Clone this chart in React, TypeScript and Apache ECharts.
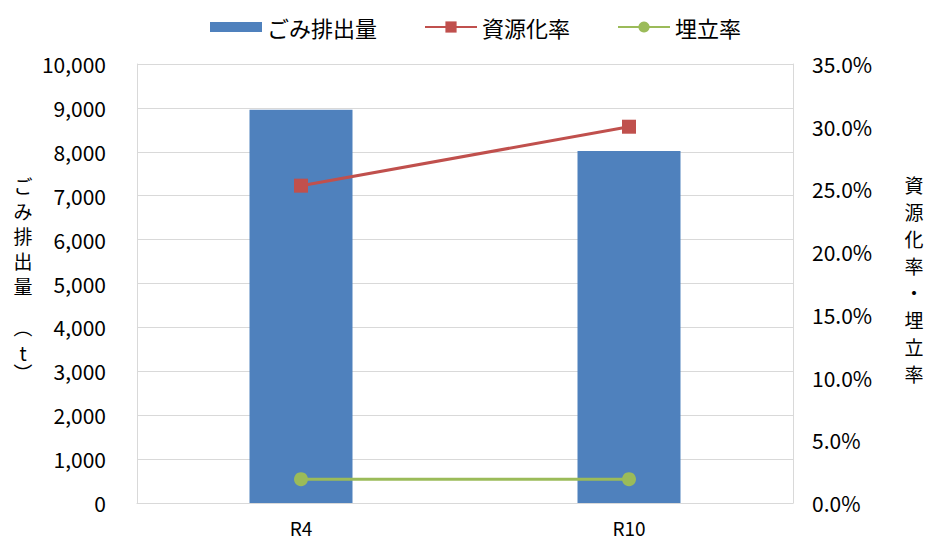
import React, { useEffect, useRef } from "react";
import * as echarts from "echarts";

const categories = ["R4", "R10"];
const wasteAmount = [8960, 8020];
const recyclingRate = [25.3, 30.0];
const landfillRate = [1.9, 1.9];

const seriesNames = ["ごみ排出量", "資源化率", "埋立率"];
const leftAxisName = "ごみ排出量（t）";
const rightAxisName = "資源化率・埋立率";

const JP = '"Noto Sans CJK JP", "Noto Sans", sans-serif';

export default function App() {
  const ref = useRef<HTMLDivElement>(null);
  useEffect(() => {
    if (!ref.current) return;
    const chart = echarts.init(ref.current, null, { renderer: "svg" });
    const leftMain = leftAxisName.slice(0, 5).split("").join("\n");
    const rightText = rightAxisName.split("").join("\n");
    const titleStyle = { fontSize: 19, fill: "#000", align: "center", fontFamily: JP };
    chart.setOption({
      animation: false,
      backgroundColor: "#ffffff",
      textStyle: { fontFamily: JP },
      legend: {
        top: 11,
        left: 205,
        itemWidth: 52,
        itemHeight: 14,
        itemGap: 47,
        textStyle: { fontSize: 22, color: "#000", fontFamily: JP },
        data: [
          { name: seriesNames[0], icon: "path://M0,0h52v10h-52z" },
          seriesNames[1],
          seriesNames[2],
        ],
      },
      grid: { left: 137, right: 136, top: 64, bottom: 38 },
      xAxis: {
        type: "category",
        data: categories,
        axisLine: { lineStyle: { color: "#D9D9D9", width: 1 } },
        axisTick: { show: false },
        axisLabel: { fontSize: 19, color: "#000", margin: 15, fontFamily: JP },
      },
      yAxis: [
        {
          type: "value",
          min: 0,
          max: 10000,
          interval: 1000,
          axisLine: { show: true, lineStyle: { color: "#D9D9D9" } },
          axisTick: { show: false },
          splitLine: { lineStyle: { color: "#D9D9D9", width: 1 } },
          axisLabel: {
            fontSize: 21,
            color: "#000",
            margin: 31,
            fontFamily: JP,
            formatter: (v: number) => v.toLocaleString("en-US"),
          },
        },
        {
          type: "value",
          min: 0,
          max: 35,
          interval: 5,
          axisLine: { show: true, lineStyle: { color: "#D9D9D9" } },
          axisTick: { show: false },
          splitLine: { show: false },
          axisLabel: {
            fontSize: 21,
            color: "#000",
            margin: 19,
            fontFamily: JP,
            formatter: (v: number) => v.toFixed(1) + "%",
          },
        },
      ],
      series: [
        {
          name: seriesNames[0],
          type: "bar",
          data: wasteAmount,
          barWidth: 103,
          itemStyle: { color: "#4F81BD" },
        },
        {
          name: seriesNames[1],
          type: "line",
          yAxisIndex: 1,
          data: recyclingRate,
          symbol: "rect",
          symbolSize: 14,
          itemStyle: { color: "#C0504D" },
          lineStyle: { color: "#C0504D", width: 3 },
        },
        {
          name: seriesNames[2],
          type: "line",
          yAxisIndex: 1,
          data: landfillRate,
          symbol: "circle",
          symbolSize: 14,
          itemStyle: { color: "#9BBB59" },
          lineStyle: { color: "#9BBB59", width: 3 },
        },
      ],
      graphic: [
        {
          type: "text",
          x: 23,
          y: 173,
          style: { ...titleStyle, text: leftMain, lineHeight: 25, verticalAlign: "top" },
        },
        {
          type: "text",
          x: 23,
          y: 328,
          rotation: -Math.PI / 2,
          style: { ...titleStyle, text: "（", verticalAlign: "middle" },
        },
        {
          type: "text",
          x: 23,
          y: 352,
          style: { ...titleStyle, text: "t", verticalAlign: "middle" },
        },
        {
          type: "text",
          x: 23,
          y: 373,
          rotation: -Math.PI / 2,
          style: { ...titleStyle, text: "）", verticalAlign: "middle" },
        },
        {
          type: "text",
          x: 914,
          y: 171,
          style: { ...titleStyle, text: rightText, lineHeight: 27, verticalAlign: "top" },
        },
      ],
    });
    return () => chart.dispose();
  }, []);
  return (
    <div
      ref={ref}
      style={{ position: "fixed", left: 0, top: 0, width: 929, height: 541, background: "#fff" }}
    />
  );
}
